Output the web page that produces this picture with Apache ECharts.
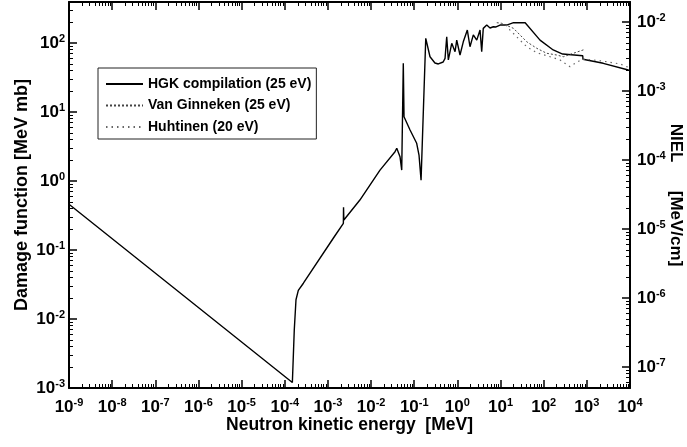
<!DOCTYPE html>
<html><head><meta charset="utf-8">
<script src="https://cdn.jsdelivr.net/npm/echarts@6/dist/echarts.min.js"></script>
<style>html,body{margin:0;padding:0;background:#fff}#c{width:687px;height:447px}</style>
</head><body><div id="c"></div>
<script>
// ---- data (energies in MeV, damage function in MeV mb) ----
const hgkEnergy = [1e-9, 1.5e-4, 1.66e-4, 1.82e-4, 2.06e-4, 2.7e-4, 1.33e-3, 2.28e-3, 2.3e-3, 2.34e-3, 5.5e-3, 0.0161, 0.0359, 0.0394, 0.0468, 0.0513, 0.0558, 0.058, 0.080, 0.114, 0.129, 0.144, 0.185, 0.232, 0.302, 0.362, 0.468, 0.518, 0.566, 0.617, 0.74, 0.883, 0.966, 1.15, 1.37, 1.70, 1.96, 2.34, 2.81, 3.35, 3.66, 3.98, 4.79, 5.71, 6.81, 7.87, 9.73, 13.9, 20, 37.2, 82.2, 166, 275, 804, 813, 2400, 9120, 10000];
const hgkDamage = [0.46, 1.2e-3, 6.9e-3, 0.019, 0.026, 0.033, 0.148, 0.244, 0.416, 0.272, 0.53, 1.44, 2.66, 2.98, 2.25, 1.44, 50.8, 8.55, 5.48, 3.52, 2.38, 1.03, 117, 63.2, 51.3, 49.7, 53.1, 60, 123, 56.8, 99, 74.8, 110, 67, 104, 154, 88.3, 131, 110, 154, 75, 163, 182, 165, 172, 171, 182, 182, 197, 197, 110, 79.3, 69.2, 65.5, 58.1, 50.8, 40.6, 40];
const vgEnergy = [8.17, 10.7, 20, 28.2, 40.7, 69.2, 117, 200, 285, 486, 908];
const vgDamage = [197, 193, 163, 131, 104, 83.8, 71, 67, 63.2, 71, 81];
const huhEnergy = [13.2, 16.6, 28.2, 40.7, 69.2, 141, 240, 407, 537, 759, 1413, 2884, 5890, 8410, 10000];
const huhDamage = [182, 154, 110, 88.3, 72.3, 63.2, 56.8, 45.4, 50.8, 58.1, 56.8, 53.6, 49.7, 45.4, 43.6];
const seriesNames = ['HGK compilation (25 eV)', 'Van Ginneken (25 eV)', 'Huhtinen (20 eV)'];
const xTickExps = [-9, -8, -7, -6, -5, -4, -3, -2, -1, 0, 1, 2, 3, 4];
const yTickExps = [-3, -2, -1, 0, 1, 2];
const nielTickExps = [-7, -6, -5, -4, -3, -2];
const nielPerDamage = 4.97e-5; // MeV/cm per MeV mb (silicon)
const xRange = [1e-9, 1e4];
const yRange = [1e-3, 393];

// ---- chart ----
const L = Math.log10;
const F = "'Liberation Sans', Arial, Helvetica, sans-serif";
const xMin = L(xRange[0]), xMax = L(xRange[1]);
const yMin = L(yRange[0]), yMax = L(yRange[1]);
const shift = L(nielPerDamage);
function minors(a, b) {
  const out = [];
  for (let n = Math.floor(a); n < Math.ceil(b); n++)
    for (let k = 2; k <= 9; k++) { const v = n + L(k); if (v > a && v < b) out.push(v); }
  return out;
}
const rich = {
  b: {fontSize: 17, fontWeight: 'bold', fontFamily: F, color: '#000', lineHeight: 20},
  s: {fontSize: 11, fontWeight: 'bold', fontFamily: F, color: '#000', verticalAlign: 'top', lineHeight: 11}
};
const fmt = v => '{b|10}{s|' + Math.round(v) + '}';
const axisLineStyle = {show: true, onZero: false, lineStyle: {color: '#000', width: 2}};
function mkAxis(opts, min, max, majors, labelMargin, minor) {
  return Object.assign({
    type: 'value', min: min, max: max, scale: true,
    nameMoveOverlap: false,
    splitLine: {show: false},
    axisLine: minor ? {show: false, onZero: false} : axisLineStyle,
    axisTick: {show: true, inside: true, length: minor ? 4 : 8,
      customValues: minor ? minors(min, max) : majors,
      lineStyle: {color: '#000', width: minor ? 1 : 1.5}},
    axisLabel: labelMargin != null ? {show: true, customValues: majors, formatter: fmt, rich: rich, margin: labelMargin,
      showMinLabel: true, showMaxLabel: true} : {show: false}
  }, opts);
}
const toPts = (xs, ys) => xs.map((x, i) => [L(x), L(ys[i])]);

const option = {
  animation: false,
  backgroundColor: '#fff',
  grid: {left: 69, right: 57, top: 2, bottom: 59, containLabel: false, outerBoundsMode: 'none'},
  legend: {
    orient: 'vertical', left: 98, top: 68,
    padding: [9, 5, 5, 7], itemGap: 7.5, itemWidth: 37, itemHeight: 14,
    borderColor: '#222', borderWidth: 1, backgroundColor: '#fff',
    itemStyle: {opacity: 0},
    textStyle: {fontFamily: F, fontWeight: 'bold', fontSize: 14, color: '#000', lineHeight: 14},
    data: seriesNames
  },
  xAxis: [
    mkAxis({position: 'bottom', name: 'Neutron kinetic energy  [MeV]', nameLocation: 'middle', nameGap: 28,
      nameTextStyle: {fontFamily: F, fontWeight: 'bold', fontSize: 17.5, color: '#000'}}, xMin, xMax, xTickExps, 9, false),
    mkAxis({position: 'bottom'}, xMin, xMax, xTickExps, null, true),
    mkAxis({position: 'top'}, xMin, xMax, xTickExps, null, false),
    mkAxis({position: 'top'}, xMin, xMax, xTickExps, null, true)
  ],
  yAxis: [
    mkAxis({position: 'left', name: 'Damage function [MeV mb]', nameLocation: 'middle', nameGap: 38,
      nameTextStyle: {fontFamily: F, fontWeight: 'bold', fontSize: 18, color: '#000'}}, yMin, yMax, yTickExps, 4, false),
    mkAxis({position: 'left'}, yMin, yMax, yTickExps, null, true),
    mkAxis({position: 'right', name: 'NIEL      [MeV/cm]', nameLocation: 'middle', nameGap: 37, nameRotate: -90,
      nameTextStyle: {fontFamily: F, fontWeight: 'bold', fontSize: 17, color: '#000'}}, yMin + shift, yMax + shift, nielTickExps, 7, false),
    mkAxis({position: 'right'}, yMin + shift, yMax + shift, nielTickExps, null, true)
  ],
  series: [
    {name: seriesNames[0], type: 'line', xAxisIndex: 0, yAxisIndex: 0, symbol: 'none', z: 3,
      lineStyle: {color: '#000', width: 1.4}, itemStyle: {color: '#000'}, data: toPts(hgkEnergy, hgkDamage)},
    {name: seriesNames[1], type: 'line', xAxisIndex: 0, yAxisIndex: 0, symbol: 'none',
      lineStyle: {color: '#444', width: 1, type: [2, 2]}, itemStyle: {color: '#444'}, data: toPts(vgEnergy, vgDamage)},
    {name: seriesNames[2], type: 'line', xAxisIndex: 0, yAxisIndex: 0, symbol: 'none',
      lineStyle: {color: '#666', width: 1.2, type: [1.5, 4]}, itemStyle: {color: '#666'}, data: toPts(huhEnergy, huhDamage)}
  ]
};
const chart = echarts.init(document.getElementById('c'));
chart.setOption(option);
</script>
</body></html>
